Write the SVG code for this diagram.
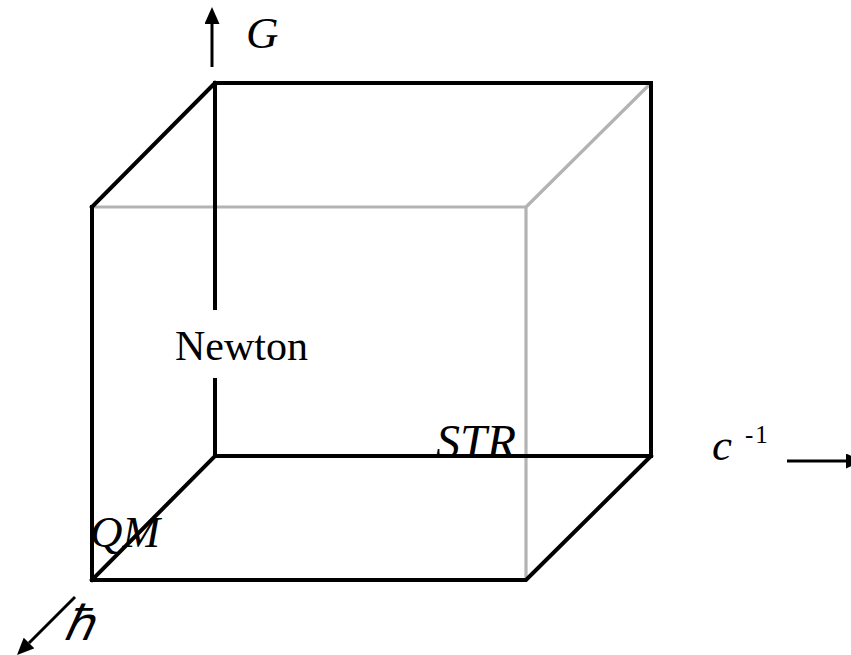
<svg xmlns="http://www.w3.org/2000/svg" width="851" height="655" viewBox="0 0 851 655">
<style>
.blk{stroke:#000;stroke-width:4;fill:none;stroke-linecap:square;stroke-linejoin:miter}
.gry{stroke:#b3b3b3;stroke-width:3.2;fill:none}
.ax{stroke:#000;stroke-width:3;fill:none}
.it{font-family:'Liberation Serif','Times New Roman',serif;font-style:italic;font-size:45px;fill:#000}
.rm{font-family:'Liberation Serif','Times New Roman',serif;font-size:42px;fill:#000}
</style>
<defs>
<marker id="ah" viewBox="0 0 17 15" refX="0" refY="7.5" markerWidth="17" markerHeight="15" markerUnits="userSpaceOnUse" orient="auto">
<path d="M0,0 L17,7.5 L0,15 z" fill="#000"/>
</marker>
</defs>
<rect width="851" height="655" fill="#fff"/>
<g id="cube">
<path class="gry" d="M92,207 L526,207 L526,580 M526,207 L651,83"/>
<path class="blk" d="M215,83 L651,83 L651,456 L215,456 M215,83 L215,308 M215,380 L215,456"/>
<path class="blk" d="M92,207 L215,83 M92,207 L92,580 L526,580 L651,456 M92,580 L215,456"/>
</g>
<g id="axes">
<line class="ax" x1="212" y1="67" x2="212" y2="24" marker-end="url(#ah)"/>
<line class="ax" x1="787" y1="461" x2="846" y2="461" marker-end="url(#ah)"/>
<line class="ax" x1="75" y1="597" x2="29" y2="643" marker-end="url(#ah)"/>
</g>
<g id="label-G"><text class="it" x="246" y="48">G</text></g>
<g id="label-c"><text class="it" x="712" y="460">c</text><text class="rm" x="745" y="443" font-size="25" letter-spacing="2" style="font-size:25px">-1</text></g>
<g id="label-hbar"><text class="it" x="64" y="640" style="font-size:48px">ℏ</text></g>
<g id="label-Newton"><text class="rm" x="175" y="360">Newton</text></g>
<g id="label-STR"><text class="it" x="436" y="458" style="font-size:48px">STR</text></g>
<g id="label-QM"><text class="it" x="90" y="547">QM</text></g>
</svg>
